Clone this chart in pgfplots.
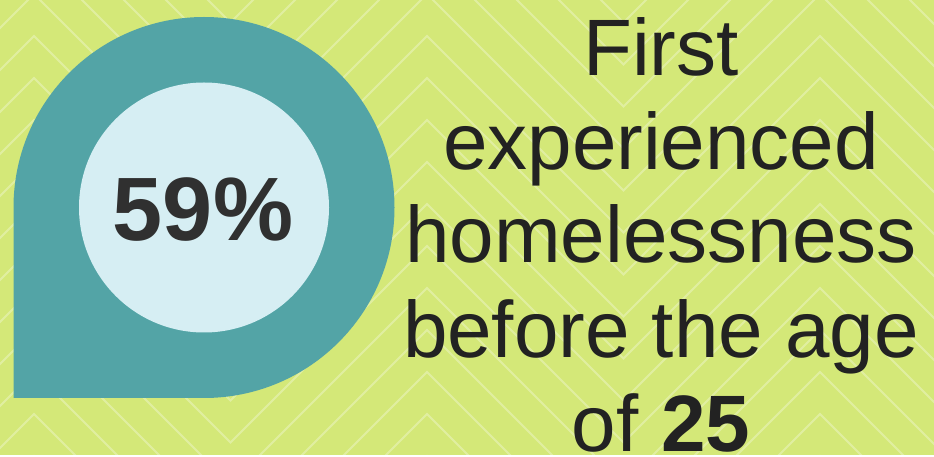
\documentclass[border=0pt]{standalone}
\usepackage{pgfplots}
\pgfplotsset{compat=1.18}
\usepackage{fontspec}
\setmainfont{Liberation Sans}

\definecolor{limebg}{RGB}{212,232,120}
\definecolor{tealring}{RGB}{83,164,166}
\definecolor{icecore}{RGB}{214,238,243}
\definecolor{inktext}{RGB}{34,34,34}
\definecolor{inkbold}{RGB}{48,48,48}

\begin{document}
\begin{tikzpicture}[x=1pt,y=1pt]
  % background with chevron pattern
  \fill[limebg] (0,0) rectangle (934,455);
  \begin{scope}
    \clip (0,0) rectangle (934,455);
    \foreach \k in {-5,...,10} {
      \pgfmathsetmacro{\yp}{419-42*\k}
      \pgfmathsetmacro{\yt}{\yp-196.5}
      \draw[white, opacity=0.3, line width=2pt]
        (-162.5,\yt) -- (34,\yp) -- (230.5,\yt) -- (427,\yp)
        -- (623.5,\yt) -- (820,\yp) -- (1016.5,\yt);
    }
  \end{scope}

  % teardrop marker and inner disc
  \fill[tealring] (13.5,57) -- (204,57) arc[start angle=-90, end angle=180, radius=190.5] -- cycle;
  \fill[icecore] (204,247.5) circle[radius=125];

  \begin{axis}[
    at={(0,0)}, anchor=south west,
    width=934pt, height=455pt, scale only axis,
    xmin=0, xmax=934, ymin=0, ymax=455,
    hide axis, clip=false
  ]
    % share of respondents
    \node[anchor=base, text=inkbold, font=\fontsize{90}{90}\selectfont\bfseries]
      at (axis cs:203,214) {59\%};

    \node[anchor=base, text=inktext, font=\fontsize{80}{94}\selectfont] at (axis cs:661,379) {First};
    \node[anchor=base, text=inktext, font=\fontsize{80}{94}\selectfont] at (axis cs:661,285) {experienced};
    \node[anchor=base, text=inktext, font=\fontsize{80}{94}\selectfont] at (axis cs:661,192) {homelessness};
    \node[anchor=base, text=inktext, font=\fontsize{80}{94}\selectfont] at (axis cs:661,97) {before the age};
    \node[anchor=base, text=inktext, font=\fontsize{80}{94}\selectfont] at (axis cs:661,3) {of \textbf{25}};
  \end{axis}
\end{tikzpicture}
\end{document}
